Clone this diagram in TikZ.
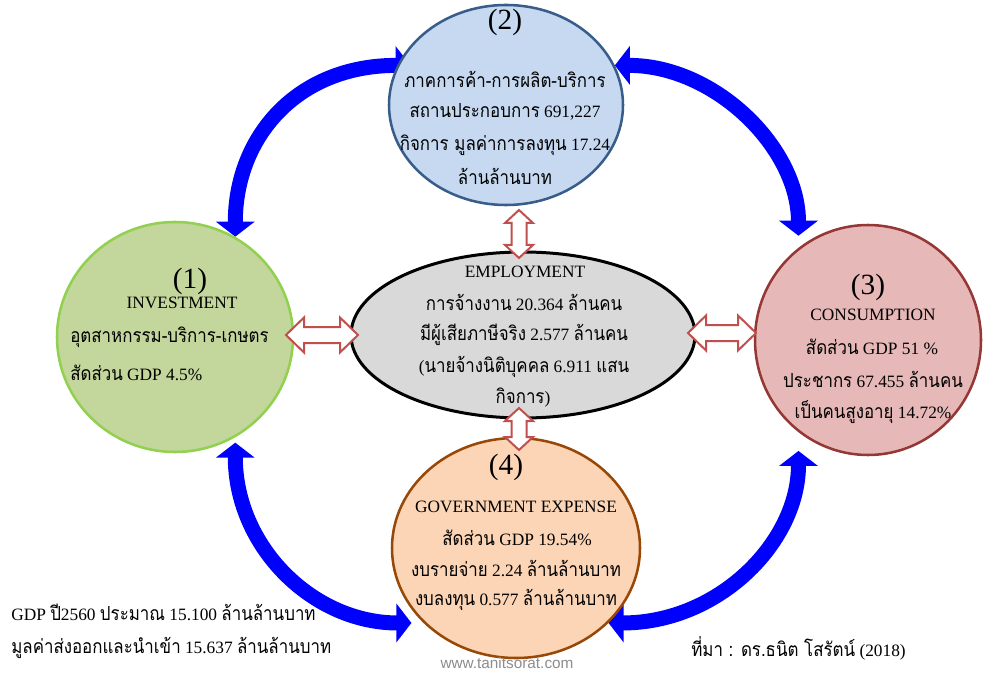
\documentclass[tikz,border=0pt]{standalone}
\usepackage{fontspec}
\setmainfont{Liberation Serif}
\newfontfamily\thaifont[Script=Thai,Scale=1.12,FakeStretch=0.87]{Loma}
\newfontfamily\webfont{Liberation Sans}
\newcommand\thx[1]{{\thaifont #1}}
\usetikzlibrary{shapes.geometric,arrows.meta,backgrounds}
\definecolor{bluefill}{HTML}{C6D9F1}
\definecolor{blueline}{HTML}{385D8A}
\definecolor{greenfill}{HTML}{C3D69B}
\definecolor{greenline}{HTML}{92D050}
\definecolor{grayfill}{HTML}{D9D9D9}
\definecolor{redfill}{HTML}{E6B9B8}
\definecolor{redline}{HTML}{953735}
\definecolor{orangefill}{HTML}{FBD5B5}
\definecolor{orangeline}{HTML}{984807}
\definecolor{arrowred}{HTML}{C0504D}
\definecolor{flowblue}{HTML}{0000FF}
\definecolor{webgray}{HTML}{8C8C8C}
% cx cy rot L w s h
\newcommand\hollowdbl[7]{%
  \begin{scope}[shift={(#1,#2)},rotate=#3]
    \draw[redarrow] (-#4,0) -- ({-#4+#7},#5) -- ({-#4+#7},#6) -- ({#4-#7},#6)
      -- ({#4-#7},#5) -- (#4,0) -- ({#4-#7},-#5) -- ({#4-#7},-#6)
      -- ({-#4+#7},-#6) -- ({-#4+#7},-#5) -- cycle;
  \end{scope}}
\tikzset{
  bub/.style={ellipse, inner sep=0pt, line width=1.9pt},
  txt/.style={inner sep=0pt, font=\fontsize{13pt}{15pt}\selectfont},
  num/.style={inner sep=0pt, font=\fontsize{22pt}{24pt}\selectfont},
  flow/.style={draw=flowblue, line width=11.25pt,
    {Triangle[width=28.5pt,length=11.25pt]}-{Triangle[width=28.5pt,length=11.25pt]}},
  redarrow/.style={draw=arrowred, fill=white, line width=1.5pt, line join=miter},
}
\begin{document}
\begin{tikzpicture}[x=0.75pt,y=-0.75pt]
\useasboundingbox (0,0) rectangle (984,673);

% ellipses
\node[bub, draw=blueline, fill=bluefill, minimum width=175.5pt, minimum height=150pt] (n2) at (506,105) {};
\node[bub, draw=greenline, fill=greenfill, minimum width=177pt, minimum height=172.5pt] (n1) at (175,337) {};
\node[bub, draw=black, fill=grayfill, line width=2.25pt, minimum width=258pt, minimum height=124.5pt] (emp) at (523,335) {};
\node[bub, draw=redline, fill=redfill, minimum width=169.5pt, minimum height=172.5pt] (n3) at (868,340) {};
\node[bub, draw=orangeline, fill=orangefill, minimum width=186pt, minimum height=165pt] (n4) at (516,548) {};

% blue flow arrows (behind)
\begin{scope}[on background layer]
\draw[flow, shorten <=-10pt] (n2.160) .. controls +(-100,0) and +(0,-100) .. (n1.59);
\draw[flow, shorten >=9pt] (n2.20) .. controls +(100,0) and +(0,-100) .. (n3.127);
\draw[flow, shorten <=4pt, shorten >=9pt] (n1.-59) .. controls +(0,110) and +(-110,0) .. (n4.219);
\draw[flow, shorten >=14pt] (n4.-39) .. controls +(110,0) and +(0,110) .. (n3.-127);
\end{scope}

% red hollow double arrows
\hollowdbl{322}{335}{0}{36}{17.5}{8}{18}
\hollowdbl{722}{333}{0}{34}{17.5}{8}{18}
\hollowdbl{519}{234}{90}{24}{14}{7.5}{13}
\hollowdbl{519}{429}{90}{21}{14}{7.5}{13}

% texts node 2
\node[num] (t2n) at (505,22) {(2)};
\node[txt] (t2a) at (505,79) {\thx{ภาคการค้า-การผลิต-บริการ}};
\node[txt] (t2b) at (505,112) {\thx{สถานประกอบการ} 691,227};
\node[txt] (t2c) at (505,145) {\thx{กิจการ มูลค่าการลงทุน} 17.24};
\node[txt] (t2d) at (505,176) {\thx{ล้านล้านบาท}};

% node 1
\node[num] (t1n) at (190,281) {(1)};
\node[txt] (t1t) at (182,303) {INVESTMENT};
\node[txt, anchor=west] (t1a) at (70,337) {\thx{อุตสาหกรรม-บริการ-เกษตร}};
\node[txt, anchor=west] (t1b) at (70,373) {\thx{สัดส่วน} GDP 4.5\%};

% employment
\node[txt] (tea) at (525,272) {EMPLOYMENT};
\node[txt] (teb) at (524,303) {\thx{การจ้างงาน} 20.364 \thx{ล้านคน}};
\node[txt] (tec) at (524,335) {\thx{มีผู้เสียภาษีจริง} 2.577 \thx{ล้านคน}};
\node[txt] (ted) at (524,367) {(\thx{นายจ้างนิติบุคคล} 6.911 \thx{แสน}};
\node[txt] (tee) at (523,398) {\thx{กิจการ})};

% node 3
\node[num] (t3n) at (868,287) {(3)};
\node[txt] (t3t) at (873,315) {CONSUMPTION};
\node[txt] (t3a) at (872,347) {\thx{สัดส่วน} GDP 51 \%};
\node[txt] (t3b) at (873,380) {\thx{ประชากร} 67.455 \thx{ล้านคน}};
\node[txt] (t3c) at (873,412) {\thx{เป็นคนสูงอายุ} 14.72\%};

% node 4
\node[num] (t4n) at (506,467) {(4)};
\node[txt] (t4t) at (516,507) {GOVERNMENT EXPENSE};
\node[txt] (t4a) at (517,538) {\thx{สัดส่วน} GDP 19.54\%};
\node[txt] (t4b) at (516,569) {\thx{งบรายจ่าย} 2.24 \thx{ล้านล้านบาท}};
\node[txt] (t4c) at (516,600) {\thx{งบลงทุน} 0.577 \thx{ล้านล้านบาท}};

% bottom texts
\node[txt, anchor=west] (gdp1) at (11,612) {GDP \thx{ปี}2560 \thx{ประมาณ} 15.100 \thx{ล้านล้านบาท}};
\node[txt, anchor=west] (gdp2) at (11,648) {\thx{มูลค่าส่งออกและนำเข้า} 15.637 \thx{ล้านล้านบาท}};
\node[txt, anchor=west] (src) at (691,648) {\thx{ที่มา : ดร.ธนิต โสรัตน์} (2018)};
\node[inner sep=0pt, text=webgray, font=\webfont\fontsize{11.5pt}{13pt}\selectfont] (web) at (507,663) {www.tanitsorat.com};
\end{tikzpicture}
\end{document}
